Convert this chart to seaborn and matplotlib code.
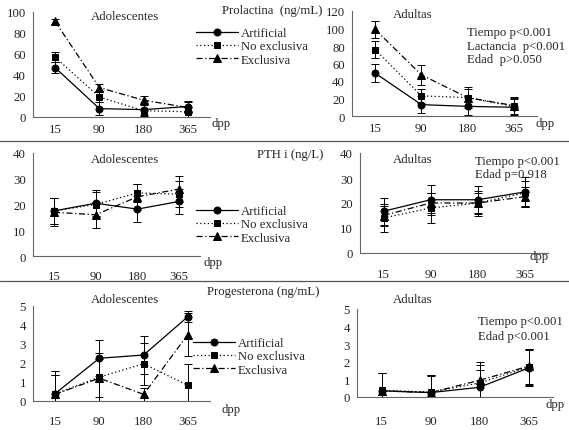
import numpy as np
import pandas as pd
import matplotlib
matplotlib.use("Agg")
import matplotlib.pyplot as plt
from matplotlib.lines import Line2D
import seaborn as sns

sns.set_style("white")
plt.rcParams["font.family"] = ["Liberation Serif", "DejaVu Serif"]

# days postpartum
days = ["15", "90", "180", "365"]
groups = ["Artificial", "No exclusiva", "Exclusiva"]

# Prolactina (ng/mL)
prl_ado = {"Artificial": [47, 8, 7, 10], "No exclusiva": [57, 19, 6, 5], "Exclusiva": [91, 28, 16, 9]}
prl_ado_err = {"Artificial": [5, 6, 5, 5], "No exclusiva": [5, 5, 5, 5], "Exclusiva": [2, 3, 4, 5]}
prl_adu = {"Artificial": [49, 13, 11, 10], "No exclusiva": [76, 23, 21, 11], "Exclusiva": [99, 47, 21, 12]}
prl_adu_err = {"Artificial": [10, 10, 10, 10], "No exclusiva": [10, 8, 10, 10], "Exclusiva": [10, 11, 12, 10]}

# PTH i (ng/L)
pth_ado = {"Artificial": [17.5, 20.5, 18.2, 21.2], "No exclusiva": [17.5, 20, 24.5, 24], "Exclusiva": [17, 16, 23, 26]}
pth_ado_err = {"Artificial": [5, 5, 5, 5], "No exclusiva": [5, 5, 3.5, 5], "Exclusiva": [5.5, 5, 5, 5]}
pth_adu = {"Artificial": [16.7, 21.3, 21.3, 24.4], "No exclusiva": [14, 18, 20, 24], "Exclusiva": [15, 20, 20, 22.5]}
pth_adu_err = {"Artificial": [5.5, 6, 5.5, 6], "No exclusiva": [5.5, 6, 5, 5], "Exclusiva": [4, 4, 4, 4]}

# Progesterona (ng/mL)
pg_ado = {"Artificial": [0.39, 2.25, 2.42, 4.44], "No exclusiva": [0.38, 1.26, 1.96, 0.82], "Exclusiva": [0.35, 1.2, 0.35, 3.5]}
pg_ado_err = {"Artificial": [1.2, 0.95, 1.0, 0.3], "No exclusiva": [1.0, 1.26, 1.1, 1.15], "Exclusiva": [1.0, 1.0, 0.35, 1.15]}
pg_adu = {"Artificial": [0.35, 0.25, 0.55, 1.65], "No exclusiva": [0.38, 0.28, 0.8, 1.7], "Exclusiva": [0.35, 0.25, 0.95, 1.75]}
pg_adu_err = {"Artificial": [1.0, 1.0, 1.0, 1.0], "No exclusiva": [1.0, 0.95, 1.0, 1.0], "Exclusiva": [1.0, 0.95, 1.05, 1.0]}

styles = {
    "Artificial": dict(marker="o", ls="-", ms=5),
    "No exclusiva": dict(marker="s", ls=(0, (1, 2)), ms=5),
    "Exclusiva": dict(marker="^", ls=(0, (5, 2, 1, 2)), ms=6),
}

FS = 9.2
W, H = 569, 431
fig = plt.figure(figsize=(W / 100, H / 100), dpi=100)

def px_axes(x0, y_top, x1, y_bot):
    return fig.add_axes([x0 / W, 1 - y_bot / H, (x1 - x0) / W, (y_bot - y_top) / H])

def fig_text(x, y, s, **kw):
    fig.text(x / W, 1 - y / H, s, fontsize=FS, va="center", **kw)

def panel(ax, vals, errs, ymax, ystep, label_pad):
    for g in groups:
        df = pd.DataFrame({"x": np.arange(len(days)), "y": vals[g]})
        st = styles[g]
        sns.lineplot(data=df, x="x", y="y", ax=ax, color="black", lw=0.9,
                     linestyle=st["ls"], marker=st["marker"], markersize=st["ms"],
                     markeredgecolor="black", label=g, legend=False)
        ax.errorbar(df["x"], df["y"], yerr=errs[g], fmt="none", ecolor="black",
                    elinewidth=0.7, capsize=3, capthick=0.7)
    ax.set_xlim(-0.5, len(days) - 0.5)
    ax.set_ylim(0, ymax)
    ax.set_yticks(np.arange(0, ymax + 0.1, ystep))
    ax.set_xticks(np.arange(len(days)))
    ax.set_xticklabels(days)
    ax.set_xticks(np.arange(-0.5, len(days)), minor=True)
    ax.tick_params(axis="x", which="major", length=0, pad=label_pad, labelsize=FS)
    ax.tick_params(axis="x", which="minor", direction="in", length=3, color="#666")
    ax.tick_params(axis="y", length=3, color="#666", labelsize=FS, pad=2)
    ax.set_xlabel("")
    ax.set_ylabel("")
    for s in ["top", "right"]:
        ax.spines[s].set_visible(False)
    for s in ["left", "bottom"]:
        ax.spines[s].set_color("#666")
        ax.spines[s].set_linewidth(0.8)
    ax.set_facecolor("none")

def legend(ax, x, y):
    ax.legend(loc="upper left", bbox_to_anchor=(x / W, 1 - y / H),
              bbox_transform=fig.transFigure, frameon=False, fontsize=FS,
              handlelength=3.3, handletextpad=0.2, labelspacing=0.1,
              borderpad=0, borderaxespad=0)

# row 1 - Prolactina
ax1 = px_axes(33, 13, 210, 118)
panel(ax1, prl_ado, prl_ado_err, 100, 20, 4)
ax2 = px_axes(352, 12, 537, 117)
panel(ax2, prl_adu, prl_adu_err, 120, 20, 4)
legend(ax1, 196, 28)
fig_text(272, 11, "Prolactina  (ng/mL)", ha="center")
fig_text(125, 17, "Adolescentes", ha="center")
fig_text(413, 15, "Adultas", ha="center")
fig_text(467, 33, "Tiempo p<0.001")
fig_text(467, 47, "Lactancia  p<0.001")
fig_text(467, 60, "Edad  p>0.050")
fig_text(212, 124, "dpp")
fig_text(536, 124, "dpp")

# row 2 - PTH i
ax3 = px_axes(33, 154, 200, 257)
panel(ax3, pth_ado, pth_ado_err, 40, 10, 10)
ax4 = px_axes(360, 154, 548, 254)
panel(ax4, pth_adu, pth_adu_err, 40, 10, 11)
legend(ax3, 196, 206)
fig_text(290, 155, "PTH i (ng/L)", ha="center")
fig_text(125, 160, "Adolescentes", ha="center")
fig_text(413, 160, "Adultas", ha="center")
fig_text(475, 162, "Tiempo p<0.001")
fig_text(475, 175, "Edad p=0.918")
fig_text(203, 263, "dpp")
fig_text(530, 257, "dpp")

# row 3 - Progesterona
ax5 = px_axes(33, 307, 210, 402)
panel(ax5, pg_ado, pg_ado_err, 5, 1, 10)
ax6 = px_axes(357, 310, 553, 398)
panel(ax6, pg_adu, pg_adu_err, 5, 1, 13)
legend(ax5, 193, 338)
fig_text(263, 292, "Progesterona (ng/mL)", ha="center")
fig_text(125, 300, "Adolescentes", ha="center")
fig_text(413, 300, "Adultas", ha="center")
fig_text(478, 322, "Tiempo p<0.001")
fig_text(478, 337, "Edad p<0.001")
fig_text(222, 410, "dpp")
fig_text(545, 405, "dpp")

# horizontal separators between sections
for yy in [141.7, 282]:
    fig.add_artist(Line2D([0, 1], [1 - yy / H, 1 - yy / H], color="#555", lw=0.9))

fig.savefig("out.png", dpi=100, facecolor="white")
